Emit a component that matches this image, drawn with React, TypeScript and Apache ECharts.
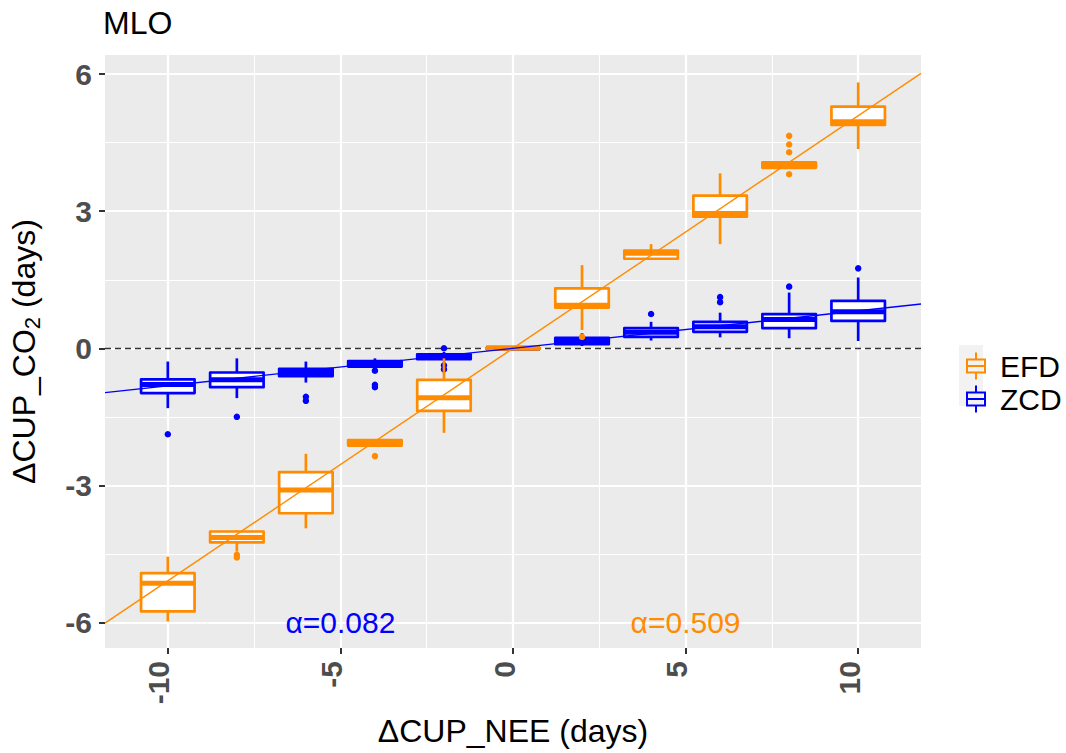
import React, { useEffect, useRef } from 'react';
import * as echarts from 'echarts';

const FONT = '"Liberation Sans", Arial, Helvetica, sans-serif';
const ORANGE = '#FF8C00';
const BLUE = '#0000FF';

// ---- data ----
const xPositions = [-10, -8, -6, -4, -2, 0, 2, 4, 6, 8, 10];
// [lower whisker, Q1, median, Q3, upper whisker]
const efdStats = [
  [-5.98, -5.76, -5.14, -4.92, -4.56],
  [-4.45, -4.25, -4.14, -4.01, -3.99],
  [-3.94, -3.61, -3.10, -2.71, -2.31],
  [-2.14, -2.13, -2.07, -2.01, -2.00],
  [-1.85, -1.37, -1.08, -0.69, -0.22],
  [-0.02, -0.01, 0.0, 0.01, 0.02],
  [0.40, 0.89, 0.94, 1.31, 1.82],
  [1.95, 1.96, 2.08, 2.14, 2.28],
  [2.28, 2.88, 2.95, 3.34, 3.83],
  [3.94, 3.95, 4.02, 4.07, 4.10],
  [4.36, 4.89, 4.96, 5.29, 5.82],
];
const zcdStats = [
  [-1.31, -0.98, -0.79, -0.68, -0.29],
  [-1.09, -0.85, -0.69, -0.53, -0.22],
  [-0.75, -0.61, -0.53, -0.45, -0.29],
  [-0.42, -0.40, -0.34, -0.28, -0.22],
  [-0.27, -0.24, -0.18, -0.13, -0.08],
  [0.0, 0.0, 0.0, 0.0, 0.0],
  [0.05, 0.09, 0.15, 0.23, 0.33],
  [0.17, 0.25, 0.35, 0.44, 0.58],
  [0.24, 0.36, 0.47, 0.58, 0.78],
  [0.22, 0.44, 0.63, 0.75, 1.22],
  [0.16, 0.60, 0.80, 1.04, 1.55],
];
const efdOutliers = [
  [-8, -4.52], [-8, -4.58], [-4, -2.36], [2, 0.25],
  [8, 4.65], [8, 4.46], [8, 4.29], [8, 3.81],
];
const zcdOutliers = [
  [-10, -1.88], [-8, -1.50], [-6, -1.06], [-6, -1.15],
  [-4, -0.49], [-4, -0.80], [-4, -0.85],
  [-2, 0.0], [-2, -0.37], [-2, -0.46],
  [4, 0.75], [6, 1.01], [6, 1.12], [8, 1.35], [10, 1.75],
];
const efdSlope = 0.509;
const zcdSlope = 0.082;
const slopeLabels = ['α=0.082', 'α=0.509'];
const slopeLabelAt = [[-5, -6], [5, -6]];

const xRange = [-11.82, 11.82];
const yRange = [-6.56, 6.42];
const xMajor = [-10, -5, 0, 5, 10];
const xMinor = [-7.5, -2.5, 2.5, 7.5];
const yMajor = [-6, -3, 0, 3, 6];
const yMinor = [-4.5, -1.5, 1.5, 4.5];

const BOX_W = 1.55;
const LEGEND_ICON =
  'path://M9 0H11V6H9Z M0 6H20V8H0Z M0 6H2V21H0Z M18 6H20V21H18Z M0 19H20V21H0Z M0 12.5H20V14.5H0Z M9 21H11V27H9Z';

const makeBoxRender = (color: string) => (params: any, api: any) => {
  const x = api.value(0);
  const pHi = api.coord([x, api.value(5)]);
  const pQ3 = api.coord([x, api.value(4)]);
  const pMed = api.coord([x, api.value(3)]);
  const pQ1 = api.coord([x, api.value(2)]);
  const pLo = api.coord([x, api.value(1)]);
  const half = api.size([BOX_W, 0])[0] / 2;
  const cx = pMed[0];
  return {
    type: 'group',
    children: [
      { type: 'line', shape: { x1: cx, y1: pHi[1], x2: cx, y2: pQ3[1] }, style: { stroke: color, lineWidth: 2.7 } },
      { type: 'line', shape: { x1: cx, y1: pQ1[1], x2: cx, y2: pLo[1] }, style: { stroke: color, lineWidth: 2.7 } },
      {
        type: 'rect',
        shape: { x: cx - half, y: pQ3[1], width: half * 2, height: pQ1[1] - pQ3[1] },
        style: { fill: '#FFFFFF', stroke: color, lineWidth: 2.7, lineJoin: 'round' },
      },
      { type: 'line', shape: { x1: cx - half, y1: pMed[1], x2: cx + half, y2: pMed[1] }, style: { stroke: color, lineWidth: 5 } },
    ],
  };
};

export default function App() {
  const ref = useRef<HTMLDivElement>(null);
  useEffect(() => {
    if (!ref.current) return;
    const chart = echarts.init(ref.current, null, { renderer: 'svg' });
    const boxData = (stats: number[][]) => stats.map((s, i) => [xPositions[i], ...s]);
    const fitLine = (slope: number) => xRange.map((x) => [x, slope * x]);

    const gridLines = [
      ...xMajor.map((v) => ({ xAxis: v, lineStyle: { color: '#FFFFFF', width: 2.2, type: 'solid' } })),
      ...xMinor.map((v) => ({ xAxis: v, lineStyle: { color: '#FFFFFF', width: 1.1, type: 'solid' } })),
      ...yMajor.map((v) => ({ yAxis: v, lineStyle: { color: '#FFFFFF', width: 2.2, type: 'solid' } })),
      ...yMinor.map((v) => ({ yAxis: v, lineStyle: { color: '#FFFFFF', width: 1.1, type: 'solid' } })),
    ];

    const tickLabel = {
      fontSize: 30,
      fontWeight: 'bold',
      color: '#4D4D4D',
      fontFamily: FONT,
    };

    chart.setOption({
      animation: false,
      title: {
        text: 'MLO',
        left: 103,
        top: 7,
        padding: 0,
        textStyle: { fontSize: 32, fontWeight: 'normal', color: '#000', fontFamily: FONT },
      },
      grid: {
        left: 103,
        right: 145,
        top: 55,
        bottom: 105,
        show: true,
        backgroundColor: '#EBEBEB',
        borderWidth: 0,
        containLabel: false,
      },
      legend: {
        orient: 'vertical',
        left: 961,
        top: 346,
        itemWidth: 20,
        itemHeight: 27,
        itemGap: 3,
        selectedMode: false,
        data: [
          { name: 'EFD', icon: LEGEND_ICON },
          { name: 'ZCD', icon: LEGEND_ICON },
        ],
        textStyle: { fontSize: 30, color: '#000', fontFamily: FONT, padding: [0, 0, 0, 9] },
      },
      graphic: [
        { type: 'rect', left: 959, top: 345, shape: { width: 24, height: 61 }, style: { fill: '#F2F2F2' }, z: 0 },
      ],
      xAxis: {
        type: 'value',
        min: xRange[0],
        max: xRange[1],
        splitLine: { show: false },
        axisLine: { show: false, onZero: false },
        axisTick: { show: true, customValues: xMajor, length: 6, lineStyle: { color: '#333333', width: 2 } },
        axisLabel: {
          ...tickLabel,
          customValues: xMajor,
          rotate: 90,
          margin: 13,
          verticalAlign: 'bottom',
          lineHeight: 18,
        },
        name: 'ΔCUP_NEE (days)',
        nameLocation: 'middle',
        nameGap: 67,
        nameTextStyle: { fontSize: 32, color: '#000', fontFamily: FONT },
      },
      yAxis: {
        type: 'value',
        min: yRange[0],
        max: yRange[1],
        splitLine: { show: false },
        axisLine: { show: false, onZero: false },
        axisTick: { show: true, customValues: yMajor, length: 6, lineStyle: { color: '#333333', width: 2 } },
        axisLabel: { ...tickLabel, customValues: yMajor, margin: 13 },
        name: '{a|ΔCUP_CO}{s|2}{a| (days)}',
        nameLocation: 'middle',
        nameRotate: 90,
        nameGap: 62,
        nameTextStyle: {
          fontSize: 32,
          color: '#000',
          fontFamily: FONT,
          rich: {
            a: { fontSize: 32, color: '#000', fontFamily: FONT, lineHeight: 38, verticalAlign: 'middle' },
            s: { fontSize: 22, color: '#000', fontFamily: FONT, lineHeight: 21, verticalAlign: 'bottom' },
          },
        },
      },
      series: [
        {
          name: 'grid',
          type: 'line',
          data: [],
          z: 0,
          silent: true,
          markLine: {
            silent: true,
            z: 0,
            symbol: ['none', 'none'],
            label: { show: false },
            data: [
              ...gridLines,
              { yAxis: 0, lineStyle: { color: '#333333', width: 1.3, type: [6, 4] } },
            ],
          },
        },
        {
          name: 'ZCD',
          type: 'custom',
          z: 1,
          itemStyle: { color: BLUE },
          renderItem: makeBoxRender(BLUE),
          encode: { x: 0, y: [1, 2, 3, 4, 5] },
          data: boxData(zcdStats),
        },
        {
          name: 'ZCD',
          type: 'scatter',
          z: 1,
          symbolSize: 6.5,
          itemStyle: { color: BLUE, opacity: 1 },
          data: zcdOutliers,
        },
        {
          name: 'EFD',
          type: 'custom',
          z: 2,
          itemStyle: { color: ORANGE },
          renderItem: makeBoxRender(ORANGE),
          encode: { x: 0, y: [1, 2, 3, 4, 5] },
          data: boxData(efdStats),
        },
        {
          name: 'EFD',
          type: 'scatter',
          z: 2,
          symbolSize: 6.5,
          itemStyle: { color: ORANGE, opacity: 1 },
          data: efdOutliers,
        },
        {
          name: 'EFD',
          type: 'line',
          z: 3,
          symbol: 'none',
          lineStyle: { color: ORANGE, width: 1.4 },
          data: fitLine(efdSlope),
        },
        {
          name: 'ZCD',
          type: 'line',
          z: 3,
          symbol: 'none',
          lineStyle: { color: BLUE, width: 1.4 },
          data: fitLine(zcdSlope),
        },
        {
          name: 'slopes',
          type: 'scatter',
          z: 4,
          symbolSize: 0,
          silent: true,
          itemStyle: { opacity: 1 },
          data: slopeLabels.map((t, i) => ({
            value: slopeLabelAt[i],
            label: {
              show: true,
              position: 'inside',
              formatter: t,
              fontSize: 30,
              fontFamily: FONT,
              color: i === 0 ? BLUE : ORANGE,
            },
          })),
        },
      ],
    });
    return () => chart.dispose();
  }, []);
  return (
    <div
      ref={ref}
      style={{ position: 'fixed', left: 0, top: 0, width: 1066, height: 753, background: '#FFFFFF' }}
    />
  );
}
